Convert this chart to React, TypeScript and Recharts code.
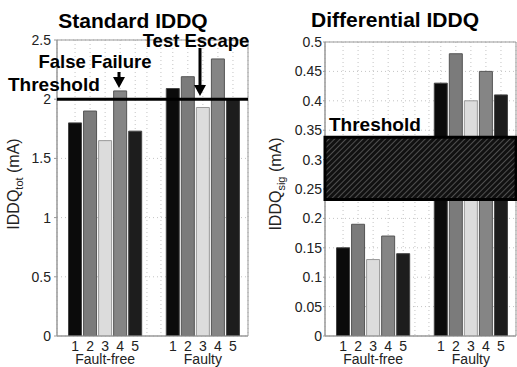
import React from 'react';
import { BarChart, Bar, Cell, XAxis, YAxis, CartesianGrid, ReferenceLine, ReferenceArea } from 'recharts';

const chipLabels = ['1', '2', '3', '4', '5'];
const groupLabels = ['Fault-free', 'Faulty'];

const standardFaultFree = [1.8, 1.9, 1.65, 2.07, 1.73];
const standardFaulty = [2.09, 2.19, 1.93, 2.34, 2.0];
const differentialFaultFree = [0.15, 0.19, 0.13, 0.17, 0.14];
const differentialFaulty = [0.43, 0.48, 0.4, 0.45, 0.41];

const standardTicks = [0, 0.5, 1, 1.5, 2, 2.5];
const differentialTicks = [0, 0.05, 0.1, 0.15, 0.2, 0.25, 0.3, 0.35, 0.4, 0.45, 0.5];

const standardThreshold = 2;
const differentialThreshold = [0.232, 0.338];

const chipFills = ['#0b0b0b', '#7b7b7b', '#dcdcdc', '#858585', '#1d1d1d'];
const chipStrokes = ['#444', '#555', '#999', '#555', '#444'];

const FONT = '"Liberation Sans", Arial, Helvetica, sans-serif';
const X_DOMAIN: [number, number] = [-0.2, 12.5];
const GROUP_START = [1, 7.5];
const GAP_GRID = [5.78, 6.71];

type Row = { x: number; value: number; chip: number; group: number };

const buildRows = (groups: number[][]): Row[] =>
  groups.flatMap((vals, g) => vals.map((value, i) => ({ x: GROUP_START[g] + i, value, chip: i, group: g })));

const fmtY = (v: number) => String(Number(v.toFixed(2)));

// chip number under each bar, and the group name under the middle chip
const makeTick = (rows: Row[]) => (props: any) => {
  const { x, y, payload } = props;
  const r = rows.find((row) => Math.abs(row.x - payload.value) < 1e-6);
  if (!r) return <g />;
  return (
    <g>
      <text x={x} y={y + 3} dy="0.71em" textAnchor="middle" fontSize={14} fontFamily={FONT} fill="#222">
        {chipLabels[r.chip]}
      </text>
      {r.chip === 2 && (
        <text x={x} y={y + 16} dy="0.71em" textAnchor="middle" fontSize={14} fontFamily={FONT} fill="#222">
          {groupLabels[r.group]}
        </text>
      )}
    </g>
  );
};

interface PanelProps {
  rows: Row[];
  yTicks: number[];
  width: number;
  marginTop: number;
  marginLeft: number;
  marginRight: number;
  yWidth: number;
  yTickSize: number;
  yTickMargin: number;
  children?: React.ReactNode;
}

const Panel: React.FC<PanelProps> = ({
  rows, yTicks, width, marginTop, marginLeft, marginRight, yWidth, yTickSize, yTickMargin, children,
}) => {
  const yMax = yTicks[yTicks.length - 1];
  const xTicks = [...rows.map((r) => r.x), ...GAP_GRID].sort((a, b) => a - b);
  return (
    <BarChart
      width={width}
      height={367}
      data={rows}
      barSize={13}
      margin={{ top: marginTop, right: marginRight, bottom: 0, left: marginLeft }}
    >
      <defs>
        <pattern id="hatch" width="4" height="4" patternUnits="userSpaceOnUse" patternTransform="rotate(45)">
          <rect width="4" height="4" fill="#111" />
          <line x1="0" y1="0" x2="0" y2="4" stroke="#6a6a6a" strokeWidth="1.4" />
        </pattern>
      </defs>
      <CartesianGrid stroke="#c4c4c4" strokeDasharray="1 3" />
      <XAxis
        dataKey="x"
        type="number"
        domain={X_DOMAIN}
        allowDataOverflow
        ticks={xTicks}
        interval={0}
        tickSize={0}
        height={31}
        axisLine={{ stroke: '#999' }}
        tickLine={false}
        tick={makeTick(rows)}
      />
      <YAxis
        type="number"
        domain={[0, yMax]}
        allowDataOverflow
        ticks={yTicks}
        interval={0}
        tickFormatter={fmtY}
        width={yWidth}
        tickSize={yTickSize}
        tickMargin={yTickMargin}
        axisLine={{ stroke: '#999' }}
        tickLine={{ stroke: '#999' }}
        tick={{ fill: '#222', fontSize: 14, fontFamily: FONT }}
      />
      <ReferenceArea x1={X_DOMAIN[0]} x2={X_DOMAIN[1]} y1={0} y2={yMax} fill="none" stroke="#999" />
      <Bar dataKey="value" isAnimationActive={false}>
        {rows.map((r, i) => (
          <Cell key={i} fill={chipFills[r.chip]} stroke={chipStrokes[r.chip]} strokeWidth={1} />
        ))}
      </Bar>
      {children}
    </BarChart>
  );
};

const textStyle: React.CSSProperties = { fontFamily: FONT, fontWeight: 'bold', fill: '#000' };

const Arrow = ({ x, y1, y2 }: { x: number; y1: number; y2: number }) => (
  <g>
    <line x1={x} y1={y1} x2={x} y2={y2 - 9} stroke="#000" strokeWidth={3} />
    <polygon points={`${x - 6},${y2 - 11} ${x + 6},${y2 - 11} ${x},${y2}`} fill="#000" />
  </g>
);

export default function App() {
  const standardRows = buildRows([standardFaultFree, standardFaulty]);
  const differentialRows = buildRows([differentialFaultFree, differentialFaulty]);
  return (
    <div style={{ position: 'absolute', left: 0, top: 0, width: 517, height: 367, background: '#fff', overflow: 'hidden' }}>
      <div style={{ position: 'absolute', left: 0, top: 0 }}>
        <Panel
          rows={standardRows}
          yTicks={standardTicks}
          width={258}
          marginTop={40}
          marginLeft={22}
          marginRight={10}
          yWidth={35}
          yTickSize={3}
          yTickMargin={3}
        >
          <ReferenceLine y={standardThreshold} stroke="#000" strokeWidth={3} zIndex={600} />
        </Panel>
      </div>
      <div style={{ position: 'absolute', left: 258, top: 0 }}>
        <Panel
          rows={differentialRows}
          yTicks={differentialTicks}
          width={259}
          marginTop={42}
          marginLeft={27}
          marginRight={1}
          yWidth={40}
          yTickSize={2}
          yTickMargin={1}
        >
          <ReferenceArea
            x1={X_DOMAIN[0]}
            x2={X_DOMAIN[1]}
            y1={differentialThreshold[0]}
            y2={differentialThreshold[1]}
            fill="url(#hatch)"
            fillOpacity={1}
            stroke="#000"
            strokeWidth={3}
            zIndex={600}
          />
        </Panel>
      </div>
      <svg width={517} height={367} style={{ position: 'absolute', left: 0, top: 0, pointerEvents: 'none' }}>
        <text x={133} y={28} textAnchor="middle" fontSize={21} style={textStyle}>Standard IDDQ</text>
        <text x={395} y={27} textAnchor="middle" fontSize={21} style={textStyle}>Differential IDDQ</text>
        <text x={196} y={47} textAnchor="middle" fontSize={18.5} style={textStyle}>Test Escape</text>
        <text x={95} y={68} textAnchor="middle" fontSize={18.5} style={textStyle}>False Failure</text>
        <text x={8} y={91} fontSize={19} style={textStyle}>Threshold</text>
        <text x={329} y={131} fontSize={19} style={textStyle}>Threshold</text>
        <Arrow x={119} y1={72} y2={88} />
        <Arrow x={200} y1={48} y2={96} />
        <text transform="translate(18.5,184) rotate(-90)" textAnchor="middle" fontSize={16} fontFamily={FONT} fill="#222">
          IDDQ<tspan fontSize={11} dy={4}>tot</tspan><tspan dy={-4}> (mA)</tspan>
        </text>
        <text transform="translate(281,184) rotate(-90)" textAnchor="middle" fontSize={16} fontFamily={FONT} fill="#222">
          IDDQ<tspan fontSize={11} dy={4}>sig</tspan><tspan dy={-4}> (mA)</tspan>
        </text>
      </svg>
    </div>
  );
}
